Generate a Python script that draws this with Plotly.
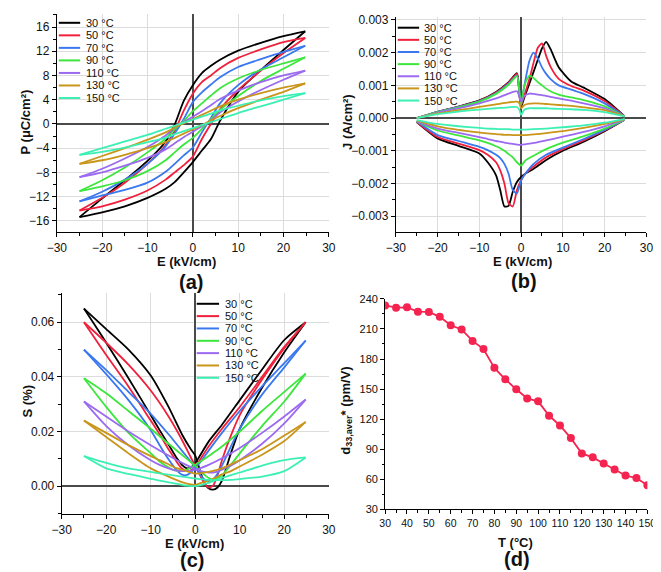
import plotly.graph_objects as go

W, H = 661, 572
FONT = "Liberation Sans, Arial, sans-serif"

TEMPS = ["30 °C", "50 °C", "70 °C", "90 °C", "110 °C", "130 °C", "150 °C"]
COLORS = ["#000000", "#F0203C", "#3A78F0", "#3CE63C", "#9B6AF0", "#C9951A", "#3CF0B4"]

# ---------------- Panel (a): P-E loops ----------------
E_A_DOWN = [24.8, 20, 15, 10, 6, 4, 2, 0, -2, -4, -6, -10, -15, -20, -25]
E_A_UP = [-25, -20, -15, -10, -6, -4, -2, 0, 2, 4, 6, 10, 15, 20, 24.8]
P30_DOWN = [15.3, 14.5, 13.4, 12.1, 10.6, 9.6, 8.4, 6.4, 3.8, -0.1, -2.9, -6.1, -9.3, -12.3, -15.4]
P30_UP = [-15.4, -14.6, -13.6, -12.2, -10.7, -9.6, -8.0, -6.3, -4.4, -2.5, 0.5, 5.3, 8.9, 12.2, 15.3]
P50_DOWN = [14.2, 13.5, 12.3, 10.9, 9.2, 8.0, 6.9, 5.0, 2.2, -1.2, -3.5, -6.6, -9.7, -12.2, -14.3]
P50_UP = [-14.3, -13.6, -12.5, -11.0, -9.2, -8.0, -6.8, -5.4, -2.5, 0.0, 2.4, 5.6, 8.8, 11.7, 14.2]
P70_DOWN = [12.9, 11.9, 10.7, 9.4, 7.7, 6.5, 5.2, 3.6, 0.8, -1.6, -3.7, -6.6, -9.2, -11.2, -12.8]
P70_UP = [-12.8, -11.8, -10.9, -9.7, -7.9, -6.6, -5.2, -3.9, -1.4, 1.0, 3.4, 6.4, 9.0, 11.0, 12.9]
P90_DOWN = [11.0, 10.0, 8.9, 7.5, 5.9, 4.7, 3.4, 2.1, 0.5, -0.9, -2.4, -4.7, -7.2, -9.3, -11.1]
P90_UP = [-11.1, -10.3, -9.3, -7.8, -6.0, -4.7, -3.4, -2.3, -0.8, 0.8, 2.3, 4.6, 7.1, 9.1, 11.0]
P110_DOWN = [8.8, 8.0, 6.9, 5.5, 4.1, 3.1, 2.1, 1.2, 0.3, -0.6, -1.9, -3.8, -5.7, -7.4, -8.8]
P110_UP = [-8.8, -8.0, -6.9, -5.6, -4.2, -3.2, -2.2, -1.3, -0.4, 0.6, 1.9, 3.7, 5.6, 7.3, 8.8]
P130_DOWN = [6.7, 6.0, 5.1, 4.0, 2.9, 2.2, 1.5, 0.8, 0.1, -0.6, -1.4, -2.6, -4.0, -5.3, -6.6]
P130_UP = [-6.6, -6.0, -5.1, -4.0, -3.0, -2.3, -1.6, -0.9, -0.2, 0.6, 1.3, 2.6, 4.0, 5.3, 6.7]
P150_DOWN = [5.1, 4.6, 3.9, 3.0, 2.2, 1.7, 1.2, 0.7, 0.2, -0.3, -0.8, -1.8, -2.9, -4.0, -5.1]
P150_UP = [-5.1, -4.6, -3.9, -3.0, -2.3, -1.7, -1.2, -0.7, -0.2, 0.3, 0.8, 1.8, 2.9, 4.0, 5.1]

# ---------------- Panel (b): J-E curves ----------------
E_B_POS = [-25, -20, -15, -10, -6, -3, -1, -0.4, 0, 0.8, 2, 3, 4, 5, 6, 7, 9, 12, 15, 20, 24.8]
J30_POS = [0.0, 0.00019, 0.00035, 0.00054, 0.00080, 0.00110, 0.00137, 0.0007, 0.00035, 0.00064, 0.00106, 0.00142, 0.00178, 0.00213, 0.00233, 0.00212, 0.00155, 0.00112, 0.00093, 0.00058, 0.00005]
J50_POS = [0.0, 0.00019, 0.00035, 0.00053, 0.00078, 0.00108, 0.00135, 0.0007, 0.0004, 0.0007, 0.0012, 0.0017, 0.00215, 0.00228, 0.0019, 0.00158, 0.00120, 0.00098, 0.00084, 0.00052, 0.00005]
J70_POS = [0.0, 0.00019, 0.00034, 0.00052, 0.00076, 0.00105, 0.00130, 0.0008, 0.00045, 0.0010, 0.00175, 0.00200, 0.00182, 0.00155, 0.00135, 0.00120, 0.00100, 0.00087, 0.00074, 0.00045, 0.00005]
J90_POS = [0.0, 0.00018, 0.00033, 0.00050, 0.00074, 0.00102, 0.00128, 0.0008, 0.0004, 0.0010, 0.0013, 0.00122, 0.00110, 0.00100, 0.00090, 0.00082, 0.00072, 0.00063, 0.00055, 0.00036, 0.00005]
J110_POS = [0.0, 0.00017, 0.00030, 0.00045, 0.00060, 0.00075, 0.00082, 0.00065, 0.0005, 0.00068, 0.00075, 0.00074, 0.00072, 0.0007, 0.00068, 0.00065, 0.0006, 0.00053, 0.00045, 0.0003, 0.00005]
J130_POS = [0.0, 0.00014, 0.00024, 0.00034, 0.00042, 0.00048, 0.0005, 0.00045, 0.0003, 0.0004, 0.00044, 0.00045, 0.00045, 0.00044, 0.00043, 0.00042, 0.0004, 0.00037, 0.00033, 0.00024, 0.00005]
J150_POS = [0.0, 0.00012, 0.0002, 0.00026, 0.0003, 0.00033, 0.00034, 0.00025, 0.0001, 0.00026, 0.0003, 0.0003, 0.0003, 0.0003, 0.0003, 0.00029, 0.00028, 0.00027, 0.00025, 0.00018, 0.00005]

E_B_NEG = [24.8, 20, 15, 10, 6, 3, 1, 0, -1, -2, -3, -4, -5, -6, -8, -10, -15, -20, -25]
J30_NEG = [-0.00005, -0.00040, -0.00072, -0.00100, -0.00128, -0.00155, -0.0017, -0.0018, -0.00195, -0.00225, -0.00268, -0.0027, -0.0022, -0.00175, -0.00135, -0.00108, -0.00085, -0.00062, -0.00012]
J50_NEG = [-0.00005, -0.00038, -0.00068, -0.00095, -0.00120, -0.00148, -0.0017, -0.0019, -0.0022, -0.0027, -0.0026, -0.0020, -0.00160, -0.00135, -0.00112, -0.00098, -0.00078, -0.00058, -0.00012]
J70_NEG = [-0.00005, -0.00036, -0.00064, -0.0009, -0.00112, -0.0014, -0.0017, -0.0019, -0.0023, -0.0022, -0.0017, -0.00140, -0.00122, -0.00112, -0.00098, -0.00088, -0.0007, -0.00052, -0.0001]
J90_NEG = [-0.00005, -0.00032, -0.00055, -0.00075, -0.00095, -0.00115, -0.0013, -0.00145, -0.00135, -0.0012, -0.0011, -0.00100, -0.00092, -0.00086, -0.00076, -0.00068, -0.00053, -0.00038, -0.0001]
J110_NEG = [-0.00005, -0.00025, -0.00042, -0.00057, -0.00068, -0.00076, -0.0008, -0.00082, -0.00081, -0.00079, -0.00077, -0.00075, -0.00072, -0.0007, -0.00064, -0.00058, -0.00045, -0.00032, -0.0001]
J130_NEG = [-0.00004, -0.00018, -0.0003, -0.0004, -0.00046, -0.0005, -0.00052, -0.00052, -0.00052, -0.00052, -0.00051, -0.00051, -0.0005, -0.00049, -0.00047, -0.00044, -0.00036, -0.00025, -0.00008]
J150_NEG = [-0.00003, -0.00014, -0.00022, -0.00028, -0.00032, -0.00034, -0.00035, -0.00035, -0.00035, -0.00035, -0.00034, -0.00034, -0.00034, -0.00033, -0.00032, -0.0003, -0.00025, -0.00018, -0.00006]

# ---------------- Panel (c): S-E butterfly loops ----------------
E_C_UP = [-25, -20, -15, -10, -6, -3, -1, 0, 1, 2, 3, 4, 5, 6, 8, 10, 15, 20, 24.8]
E_C_DOWN = [24.8, 20, 15, 10, 6, 3, 1, 0, -1, -2, -3, -4, -5, -6, -8, -10, -15, -20, -25]
S30_UP = [0.065, 0.0575, 0.050, 0.0405, 0.029, 0.019, 0.0135, 0.0112, 0.006, 0.0015, -0.0008, -0.0013, -0.0005, 0.002, 0.012, 0.021, 0.036, 0.049, 0.060]
S30_DOWN = [0.060, 0.0535, 0.0427, 0.0315, 0.0225, 0.0163, 0.011, 0.0085, 0.0068, 0.0066, 0.0078, 0.0099, 0.0125, 0.0152, 0.0205, 0.026, 0.0395, 0.0525, 0.065]
S50_UP = [0.060, 0.0525, 0.0445, 0.035, 0.0255, 0.017, 0.0105, 0.0075, 0.0042, 0.0012, -0.0005, 0.0002, 0.004, 0.0095, 0.0185, 0.026, 0.039, 0.0505, 0.060]
S50_DOWN = [0.060, 0.051, 0.040, 0.029, 0.021, 0.0145, 0.0095, 0.0072, 0.0058, 0.0056, 0.0065, 0.0085, 0.011, 0.0135, 0.019, 0.024, 0.0365, 0.048, 0.060]
S70_UP = [0.050, 0.0425, 0.0345, 0.0265, 0.019, 0.013, 0.009, 0.007, 0.0045, 0.0025, 0.0018, 0.0025, 0.0045, 0.0075, 0.0145, 0.021, 0.0335, 0.0435, 0.0533]
S70_DOWN = [0.0533, 0.045, 0.0365, 0.0275, 0.0195, 0.013, 0.0085, 0.0068, 0.005, 0.004, 0.0042, 0.0055, 0.0075, 0.0098, 0.015, 0.0205, 0.0315, 0.041, 0.050]
S90_UP = [0.0395, 0.034, 0.0275, 0.021, 0.0155, 0.0115, 0.0088, 0.0075, 0.0058, 0.0042, 0.003, 0.0025, 0.003, 0.004, 0.0078, 0.012, 0.022, 0.031, 0.0412]
S90_DOWN = [0.0412, 0.0345, 0.0275, 0.020, 0.0145, 0.011, 0.0088, 0.0078, 0.0068, 0.006, 0.0055, 0.0056, 0.006, 0.0068, 0.009, 0.012, 0.0195, 0.029, 0.0395]
S110_UP = [0.031, 0.0255, 0.020, 0.015, 0.0112, 0.0085, 0.007, 0.0062, 0.0056, 0.0052, 0.005, 0.005, 0.0053, 0.006, 0.0075, 0.0095, 0.0155, 0.023, 0.0317]
S110_DOWN = [0.0317, 0.0255, 0.0195, 0.014, 0.0102, 0.0078, 0.0065, 0.006, 0.0057, 0.0055, 0.0055, 0.0057, 0.006, 0.0065, 0.0078, 0.0095, 0.015, 0.022, 0.031]
S130_UP = [0.024, 0.018, 0.012, 0.0065, 0.0035, 0.0015, 0.0006, 0.0005, 0.001, 0.0015, 0.002, 0.0027, 0.0035, 0.0043, 0.0055, 0.0072, 0.0115, 0.0165, 0.0235]
S130_DOWN = [0.0235, 0.0185, 0.0135, 0.0095, 0.0065, 0.0052, 0.0047, 0.0046, 0.005, 0.0055, 0.006, 0.0065, 0.0072, 0.008, 0.0095, 0.011, 0.015, 0.0195, 0.024]
S150_UP = [0.011, 0.0085, 0.0065, 0.0052, 0.0042, 0.0035, 0.003, 0.0028, 0.0026, 0.0024, 0.0023, 0.0022, 0.0022, 0.0022, 0.0023, 0.0026, 0.0035, 0.0055, 0.0105]
S150_DOWN = [0.0105, 0.0095, 0.0075, 0.005, 0.003, 0.0012, 0.0003, 0.0, 0.0, 0.0002, 0.0005, 0.0008, 0.0011, 0.0014, 0.002, 0.0027, 0.0045, 0.0065, 0.011]

# ---------------- Panel (d): d33* vs T ----------------
T_D = [30, 35, 40, 45, 50, 55, 60, 65, 70, 75, 80, 85, 90, 95, 100, 105, 110, 115, 120, 125, 130, 135, 140, 145, 150]
D33 = [233.5, 231.2, 231.6, 227.3, 227.0, 222.1, 213.7, 209.5, 198.1, 190.0, 171.2, 159.8, 149.8, 140.7, 137.8,
       123.5, 113.7, 101.1, 85.8, 81.9, 75.8, 69.9, 63.8, 61.2, 54.0]

P_DOWN = [P30_DOWN, P50_DOWN, P70_DOWN, P90_DOWN, P110_DOWN, P130_DOWN, P150_DOWN]
P_UP = [P30_UP, P50_UP, P70_UP, P90_UP, P110_UP, P130_UP, P150_UP]
J_POS = [J30_POS, J50_POS, J70_POS, J90_POS, J110_POS, J130_POS, J150_POS]
J_NEG = [J30_NEG, J50_NEG, J70_NEG, J90_NEG, J110_NEG, J130_NEG, J150_NEG]
S_UP = [S30_UP, S50_UP, S70_UP, S90_UP, S110_UP, S130_UP, S150_UP]
S_DOWN = [S30_DOWN, S50_DOWN, S70_DOWN, S90_DOWN, S110_DOWN, S130_DOWN, S150_DOWN]


def px(x):
    return x / W


def py(y):
    return 1 - y / H


fig = go.Figure()

LW = 1.8
for i in range(len(TEMPS)):
    fig.add_trace(go.Scatter(x=E_A_DOWN + [None] + E_A_UP, y=P_DOWN[i] + [None] + P_UP[i],
                             mode="lines", line=dict(color=COLORS[i], width=LW, shape="spline", smoothing=0.7),
                             connectgaps=False, xaxis="x", yaxis="y", showlegend=False, name=TEMPS[i]))
for i in range(len(TEMPS)):
    fig.add_trace(go.Scatter(x=E_B_POS + [None] + E_B_NEG, y=J_POS[i] + [None] + J_NEG[i],
                             mode="lines", line=dict(color=COLORS[i], width=LW, shape="spline", smoothing=0.6),
                             connectgaps=False, xaxis="x2", yaxis="y2", showlegend=False, name=TEMPS[i]))
for i in range(len(TEMPS)):
    fig.add_trace(go.Scatter(x=E_C_UP + [None] + E_C_DOWN, y=S_UP[i] + [None] + S_DOWN[i],
                             mode="lines", line=dict(color=COLORS[i], width=LW, shape="spline", smoothing=0.7),
                             connectgaps=False, xaxis="x3", yaxis="y3", showlegend=False, name=TEMPS[i]))
fig.add_trace(go.Scatter(x=T_D, y=D33, mode="lines+markers",
                         line=dict(color="#F5234F", width=1.8),
                         marker=dict(color="#F5234F", size=8),
                         xaxis="x4", yaxis="y4", showlegend=False))


def axis(domain, rng, dtick, mdtick, anchor, grid=True, zero=True, fmt=None, fsize=12, tick0=0):
    d = dict(domain=domain, range=rng, dtick=dtick, tick0=tick0, anchor=anchor,
             showline=True, linecolor="#000", linewidth=1,
             ticks="outside", ticklen=4, tickcolor="#000", tickwidth=1, tickangle=0,
             tickfont=dict(family=FONT, size=fsize, color="#111"),
             ticklabeloverflow="allow",
             showgrid=grid, gridcolor="#DCDCDC", gridwidth=1,
             zeroline=zero, zerolinecolor="#4A4A4A", zerolinewidth=1.5,
             minor=dict(dtick=mdtick, ticks="outside", ticklen=2.5, tickcolor="#000", showgrid=False),
             fixedrange=True)
    if fmt:
        d["tickformat"] = fmt
    return d


fig.update_layout(
    width=W, height=H, autosize=False,
    margin=dict(l=0, r=0, t=0, b=0),
    paper_bgcolor="white", plot_bgcolor="white",
    font=dict(family=FONT, size=12, color="#111"),
    xaxis=axis([px(40), px(320)], [-30, 30], 10, 5, "y"),
    yaxis=axis([py(223), py(0)], [-17.9, 18.15], 4, 2, "x"),
    xaxis2=axis([px(389), px(647)], [-30, 30], 10, 5, "y2"),
    yaxis2=axis([py(223), py(3)], [-0.00349, 0.00309], 0.001, 0.0005, "x2", fmt=".3f"),
    xaxis3=axis([px(45), px(320)], [-30, 30], 10, 5, "y3"),
    yaxis3=axis([py(511), py(285)], [-0.0103, 0.0707], 0.02, 0.01, "x3", fmt=".2f"),
    xaxis4=axis([px(378), px(648)], [30, 150], 10, 5, "y4", grid=False, zero=False, fsize=10.5, tick0=30),
    yaxis4=axis([py(506), py(291)], [30, 240], 30, 15, "x4", grid=False, zero=False, fsize=11, tick0=30),
)

shapes = []
annotations = []

# Legend boxes (white background) and manual legends
LEGENDS = [
    dict(box=(40, 0, 102, 93), x0=42, x1=64, tx=68, y0=9, dy=12.8),
    dict(box=(389, 7, 455, 95), x0=391, x1=413, tx=416, y0=14, dy=12.4),
    dict(box=(183, 289, 243, 378), x0=184, x1=207, tx=211, y0=296, dy=12.6),
]
for lg in LEGENDS:
    bx0, by0, bx1, by1 = lg["box"]
    shapes.append(dict(type="rect", xref="paper", yref="paper", x0=px(bx0), x1=px(bx1), y0=py(by1), y1=py(by0),
                       fillcolor="white", line=dict(width=0), layer="between"))
    for i, t in enumerate(TEMPS):
        yy = lg["y0"] + i * lg["dy"]
        shapes.append(dict(type="line", xref="paper", yref="paper", x0=px(lg["x0"]), x1=px(lg["x1"]),
                           y0=py(yy), y1=py(yy), line=dict(color=COLORS[i], width=2)))
        annotations.append(dict(text=t, xref="paper", yref="paper", x=px(lg["tx"]), y=py(yy),
                                xanchor="left", yanchor="middle", showarrow=False,
                                font=dict(family=FONT, size=11, color="#111")))

TITLE_FONT = dict(family=FONT, size=13, color="#111")
LABEL_FONT = dict(family=FONT, size=20, color="#111")


def ann(text, x, y, font, angle=0):
    annotations.append(dict(text=text, xref="paper", yref="paper", x=px(x), y=py(y),
                            xanchor="center", yanchor="middle", showarrow=False, font=font, textangle=angle))


ann("<b>P (μC/cm²)</b>", 8, 110, TITLE_FONT, -90)
ann("<b>E (kV/cm)</b>", 174, 253, TITLE_FONT)
ann("<b>(a)</b>", 178, 274, LABEL_FONT)
ann("<b>J (A/cm²)</b>", 339, 110, TITLE_FONT, -90)
ann("<b>E (kV/cm)</b>", 519, 253, TITLE_FONT)
ann("<b>(b)</b>", 521, 273, LABEL_FONT)
ann("<b>S (%)</b>", 10, 395, TITLE_FONT, -90)
ann("<b>E (kV/cm)</b>", 182, 541, TITLE_FONT)
ann("<b>(c)</b>", 179, 558, LABEL_FONT)
ann("<b>d<sub>33,aver</sub>* (pm/V)</b>", 338, 405, TITLE_FONT, -90)
ann("<b>T (°C)</b>", 512, 540, TITLE_FONT)
ann("<b>(d)</b>", 514, 557, LABEL_FONT)

fig.update_layout(shapes=shapes, annotations=annotations)

fig.write_html("out.html")
